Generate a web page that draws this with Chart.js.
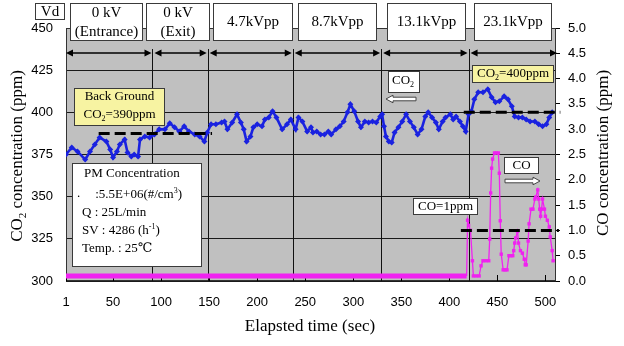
<!DOCTYPE html>
<html><head><meta charset="utf-8">
<script src="https://cdn.jsdelivr.net/npm/chart.js@4"></script>
<style>html,body{margin:0;padding:0;background:#fff}#wrap{width:624px;height:346px}</style>
</head><body><div id="wrap"><canvas id="c" width="624" height="346"></canvas></div>
<script>
// ---------- DATA ----------
const co2Time = [
  1,7,13,21,26,31,36,43,47,50,
  54,57,62,65,69,72,76,78,83,88,
  93,98,104,109,114,119,124,129,135,140,
  145,148,152,157,163,166,169,174,179,183,
  186,189,193,196,200,205,208,212,216,220,
  226,231,235,240,243,247,252,256,258,262,
  266,270,274,277,282,286,290,294,297,301,
  305,308,312,316,320,324,328,330,332,334,
  337,340,343,347,351,355,359,363,367,371,
  375,378,382,386,389,393,396,401,404,407,
  411,414,417,420,423,426,430,435,440,444,
  448,452,457,461,465,468,472,476,480,484,
  489,493,497,501,504,507];
const co2Values = [
  375.0,379.2,376.8,372.0,376.8,381.0,385.1,382.7,378.0,373.2,
  376.8,381.0,383.9,376.2,373.8,375.0,373.8,383.9,385.7,385.1,
  386.9,389.9,389.9,393.5,391.1,388.7,391.7,388.7,386.9,385.7,
  382.7,388.1,392.9,392.9,394.0,394.6,389.9,394.0,398.8,394.0,
  389.9,382.7,385.7,391.1,392.9,391.7,395.8,397.0,400.6,397.0,
  389.9,392.9,395.8,389.9,397.0,394.6,388.7,391.1,388.1,388.7,
  386.9,386.9,388.7,386.9,389.9,391.7,394.6,400.0,404.8,400.6,
  394.6,391.1,394.6,394.0,394.6,394.0,397.6,398.8,391.7,385.7,
  382.7,382.1,388.1,391.1,394.6,398.8,394.6,391.1,386.9,389.9,
  397.6,400.0,397.0,394.0,389.9,394.6,397.0,398.8,395.8,397.6,
  394.6,391.7,388.7,398.8,400.6,407.7,411.9,411.9,413.7,408.9,
  406.0,406.5,409.5,407.7,403.6,397.6,397.0,397.0,395.8,394.6,
  394.6,392.9,391.7,392.9,397.0,400.0];

const coTime = [
  1,418,419,420,422,424,425,428,431,433,
  435,438,441,442,443,444,445,447,449,451,
  452,453,454,456,458,460,462,464,466,467,
  468,469,471,472,474,476,478,479,480,482,
  483,485,487,489,490,492,493,494,495,496,
  497,499,500,502,504,505,507,508];
const coValues = [
  0.1,0.1,1.2,1.1,1.0,0.4,0.1,0.1,0.1,0.3,
  0.4,0.4,0.4,0.83,1.74,2.23,2.41,2.53,2.53,2.53,
  2.13,1.19,0.53,0.22,0.22,0.22,0.5,0.5,0.5,0.6,
  0.75,0.85,0.98,0.75,0.6,0.55,0.43,0.32,0.32,0.79,
  1.13,1.42,1.42,1.62,1.66,1.8,1.62,1.42,1.28,1.42,
  1.62,1.42,1.28,1.2,1.07,0.87,0.6,0.4];

const xTickLabels = [1,50,100,150,200,250,300,350,400,450,500];
const co2TickLabels = [300,325,350,375,400,425,450];
const coTickLabels = [0,0.5,1,1.5,2,2.5,3,3.5,4,4.5,5];

const phaseBounds = [1, 91, 148.5, 237, 329, 420, 511];
const phaseVoltages = [['0 kV','(Entrance)'],['0 kV','(Exit)'],['4.7kVpp'],['8.7kVpp'],['13.1kVpp'],['23.1kVpp']];

const bgTime = [35, 153];      const bgLevel = 387.5;
const co2RefTime = [415, 515.5]; const co2RefLevel = 400;
const coRefTime = [412, 514];  const coRefLevel = 1.0;

// ---------- DRAWING ----------
const SERIF = "'Liberation Serif','Times New Roman','DejaVu Serif',serif";
const SANS = "'Liberation Sans',Arial,sans-serif";

function rich(ctx, parts, x, y, align, size, family){
  const small = Math.round(size*0.62);
  let w = 0;
  parts.forEach(([t,m])=>{ctx.font=(m?small:size)+'px '+family; w+=ctx.measureText(t).width;});
  let cx = align==='center' ? x-w/2 : (align==='right' ? x-w : x);
  ctx.textAlign='left'; ctx.textBaseline='middle';
  parts.forEach(([t,m])=>{
    ctx.font=(m?small:size)+'px '+family;
    const dy = m===1 ? size*0.28 : (m===2 ? -size*0.32 : 0);
    ctx.fillText(t,cx,y+dy);
    cx += ctx.measureText(t).width;
  });
}
function box(ctx,l,t,r,b,fill){
  ctx.fillStyle=fill; ctx.fillRect(l,t,r-l,b-t);
  ctx.strokeStyle='#3a3a3a'; ctx.lineWidth=1; ctx.strokeRect(l+0.5,t+0.5,r-l-1,b-t-1);
}
function dblArrow(ctx,x1,x2,y){
  const hl=7, hw=3.5;
  ctx.beginPath(); ctx.moveTo(x1+hl-1,y); ctx.lineTo(x2-hl+1,y); ctx.lineWidth=1.5; ctx.strokeStyle='#000'; ctx.stroke();
  ctx.fillStyle='#000';
  ctx.beginPath(); ctx.moveTo(x1,y); ctx.lineTo(x1+hl,y-hw); ctx.lineTo(x1+hl,y+hw); ctx.closePath(); ctx.fill();
  ctx.beginPath(); ctx.moveTo(x2,y); ctx.lineTo(x2-hl,y-hw); ctx.lineTo(x2-hl,y+hw); ctx.closePath(); ctx.fill();
}
function hollowArrow(ctx,xTail,xTip,y){
  const d = Math.sign(xTip-xTail), hl=7;
  ctx.beginPath();
  ctx.moveTo(xTail,y-1.8); ctx.lineTo(xTip-d*hl,y-1.8); ctx.lineTo(xTip-d*hl,y-3.8);
  ctx.lineTo(xTip,y); ctx.lineTo(xTip-d*hl,y+3.8); ctx.lineTo(xTip-d*hl,y+1.8);
  ctx.lineTo(xTail,y+1.8); ctx.closePath();
  ctx.fillStyle='#fff'; ctx.fill(); ctx.strokeStyle='#444'; ctx.lineWidth=1; ctx.stroke();
}

const decor = {
  id:'decor',
  beforeDraw(chart){
    const {ctx, chartArea:a} = chart;
    ctx.save();
    ctx.fillStyle='#fff'; ctx.fillRect(0,0,chart.width,chart.height);
    ctx.fillStyle='#c0c0c0'; ctx.fillRect(a.left,a.top,a.right-a.left,a.bottom-a.top);
    ctx.restore();
  },
  beforeDatasetsDraw(chart){
    const {ctx, chartArea:a, scales:{x}} = chart;
    ctx.save();
    ctx.strokeStyle='#333'; ctx.lineWidth=1;
    ctx.strokeRect(a.left+0.5,a.top+0.5,a.right-a.left-1,a.bottom-a.top-1);
    ctx.strokeStyle='#000';
    xTickLabels.forEach(v=>{
      const px=Math.round(x.getPixelForValue(v))+0.5;
      ctx.beginPath(); ctx.moveTo(px,a.bottom); ctx.lineTo(px,a.bottom-6); ctx.stroke();
    });
    const arrowY = 53;
    ctx.strokeStyle='#111'; ctx.lineWidth=1;
    for(let i=1;i<phaseBounds.length-1;i++){
      const px=Math.round(x.getPixelForValue(phaseBounds[i]))+0.5;
      ctx.beginPath(); ctx.moveTo(px,arrowY-4); ctx.lineTo(px,a.bottom); ctx.stroke();
    }
    for(let i=0;i<phaseBounds.length-1;i++){
      const x1 = i===0 ? a.left : x.getPixelForValue(phaseBounds[i])+2;
      const x2 = i===phaseBounds.length-2 ? a.right+1 : x.getPixelForValue(phaseBounds[i+1])-1;
      dblArrow(ctx,x1,x2,arrowY);
    }
    ctx.restore();
  },
  afterDraw(chart){
    const {ctx} = chart;
    ctx.save();
    box(ctx,35,3,65,20,'#fff');
    ctx.fillStyle='#000'; rich(ctx,[['Vd',0]],50,12,'center',15,SERIF);
    const hb = [[70,143],[146,210],[213,293],[298,377],[387,466],[474,552]];
    hb.forEach((b,i)=>{
      box(ctx,b[0],3,b[1],41,'#fff');
      ctx.fillStyle='#000';
      const lines = phaseVoltages[i], cx=(b[0]+b[1])/2;
      if(lines.length===2){ rich(ctx,[[lines[0],0]],cx,13,'center',15,SERIF); rich(ctx,[[lines[1],0]],cx,32,'center',15,SERIF); }
      else rich(ctx,[[lines[0],0]],cx,22,'center',15,SERIF);
    });
    box(ctx,74,88,165,126,'#f7f3a2');
    ctx.fillStyle='#000';
    rich(ctx,[['Back Ground',0]],119.5,97,'center',13,SERIF);
    rich(ctx,[['CO',0],['2',1],['=390ppm',0]],119.5,115,'center',13,SERIF);
    box(ctx,472,65,554,83,'#f7f3a2');
    ctx.fillStyle='#000';
    rich(ctx,[['CO',0],['2',1],['=400ppm',0]],513,74,'center',13,SERIF);
    box(ctx,388,71,420,93,'#fff');
    ctx.fillStyle='#000';
    rich(ctx,[['CO',0],['2',1]],403,81,'center',13,SERIF);
    hollowArrow(ctx,416,386,99);
    box(ctx,504,157,539,174,'#fff');
    ctx.fillStyle='#000';
    rich(ctx,[['CO',0]],521.5,165.5,'center',13,SERIF);
    hollowArrow(ctx,505,540,181);
    box(ctx,413,198,478,215,'#fff');
    ctx.fillStyle='#000';
    rich(ctx,[['CO=1ppm',0]],445.5,206.5,'center',13,SERIF);
    box(ctx,72,163,202,267,'#fff');
    ctx.fillStyle='#000';
    rich(ctx,[['PM Concentration',0]],84,174,'left',13,SERIF);
    rich(ctx,[['.',0]],77,194,'left',13,SERIF);
    rich(ctx,[[' :5.5E+06(#/cm',0],['3',2],[')',0]],92,195,'left',13,SERIF);
    rich(ctx,[['Q : 25L/min',0]],82,213,'left',13,SERIF);
    rich(ctx,[['SV : 4286 (h',0],['-1',2],[')',0]],82,231,'left',13,SERIF);
    rich(ctx,[['Temp. : 25℃',0]],82,249,'left',13,SERIF);
    ctx.fillStyle='#000';
    rich(ctx,[['Elapsted time (sec)',0]],310,327,'center',17,SERIF);
    ctx.save(); ctx.translate(18,156); ctx.rotate(-Math.PI/2);
    rich(ctx,[['CO',0],['2',1],[' concentration (ppm)',0]],0,0,'center',17,SERIF);
    ctx.restore();
    ctx.save(); ctx.translate(604,153); ctx.rotate(-Math.PI/2);
    rich(ctx,[['CO concentration (ppm)',0]],0,0,'center',17,SERIF);
    ctx.restore();
    ctx.restore();
  }
};

const pts = (ts,vs)=>ts.map((t,i)=>({x:t,y:vs[i]}));
const flat = (ts,v)=>ts.map(t=>({x:t,y:v}));
const BLUE='#1a22e0', MAG='#f022f0';

new Chart(document.getElementById('c'),{
  type:'line',
  data:{datasets:[
    {label:'bg', data:flat(bgTime,bgLevel), yAxisID:'y', borderColor:'#000', borderWidth:3, borderDash:[11,5], pointRadius:0, order:0, clip:false},
    {label:'co2ref', data:flat(co2RefTime,co2RefLevel), yAxisID:'y', borderColor:'#000', borderWidth:3, borderDash:[11,5], pointRadius:0, order:0, clip:false},
    {label:'coref', data:flat(coRefTime,coRefLevel), yAxisID:'y1', borderColor:'#000', borderWidth:3, borderDash:[11,5], pointRadius:0, order:0, clip:false},
    {label:'CO', data:pts(coTime,coValues), yAxisID:'y1', borderColor:MAG, backgroundColor:MAG, borderWidth:1.3,
      pointStyle:'rect', pointRadius:c=>c.dataIndex<=1?0:2.4, pointBorderWidth:0,
      segment:{borderWidth:c=>c.p0DataIndex===0?5:1.3}, order:1},
    {label:'CO2', data:pts(co2Time,co2Values), yAxisID:'y', borderColor:BLUE, backgroundColor:BLUE, borderWidth:2.6,
      pointStyle:'rectRot', pointRadius:3, pointBorderWidth:0, order:2}
  ]},
  options:{
    responsive:false, animation:false, events:[],
    layout:{padding:{top:28,left:0,right:0,bottom:0}},
    plugins:{legend:{display:false}, tooltip:{enabled:false}},
    scales:{
      x:{type:'linear', min:1, max:511,
        afterBuildTicks:s=>{s.ticks=xTickLabels.map(v=>({value:v}));},
        afterFit:s=>{s.height=65;},
        grid:{display:false, drawTicks:false}, border:{display:false},
        ticks:{padding:14, color:'#000', font:{family:SANS,size:13}, maxRotation:0, autoSkip:false}},
      y:{position:'left', min:300, max:450,
        afterBuildTicks:s=>{s.ticks=co2TickLabels.map(v=>({value:v}));},
        afterFit:s=>{s.width=66;},
        grid:{color:'#1a1a1a', lineWidth:1, drawTicks:false}, border:{display:false},
        ticks:{padding:13, color:'#000', font:{family:SANS,size:13}}},
      y1:{position:'right', min:0, max:5,
        afterBuildTicks:s=>{s.ticks=coTickLabels.map(v=>({value:v}));},
        afterFit:s=>{s.width=68;},
        grid:{drawOnChartArea:false, drawTicks:true, tickLength:4, color:'#000'}, border:{display:false},
        ticks:{padding:8, color:'#000', font:{family:SANS,size:13}, callback:v=>Number(v).toFixed(1)}}
    }
  },
  plugins:[decor]
});
</script></body></html>
